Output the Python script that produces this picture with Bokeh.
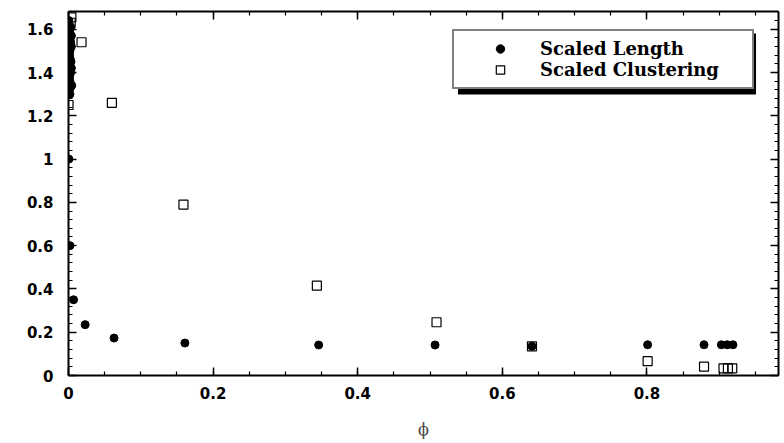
import numpy as np
from bokeh.plotting import figure
from bokeh.models import Range1d, LinearAxis, Legend, LegendItem, BoxAnnotation, FixedTicker
from bokeh.embed import file_html
from bokeh.resources import INLINE

# ---- data ----
length_phi = [0.0005, 0.001, 0.0015, 0.002, 0.0025, 0.003, 0.004, 0.002, 0.0015,
              0.0025, 0.001, 0.004, 0.003, 0.0015, 0.002, 0.0045, 0.001, 0.002,
              0.003, 0.004, 0.0035, 0.0025,
              0.0005, 0.002, 0.007, 0.023, 0.063, 0.161, 0.346, 0.507, 0.641,
              0.801, 0.879, 0.903, 0.911, 0.919]
length_val = [1.64, 1.62, 1.60, 1.58, 1.56, 1.54, 1.52, 1.50, 1.48,
              1.46, 1.44, 1.42, 1.40, 1.38, 1.36, 1.34, 1.32, 1.30,
              1.61, 1.57, 1.45, 1.33,
              1.00, 0.60, 0.35, 0.235, 0.173, 0.150, 0.141, 0.141, 0.135,
              0.142, 0.142, 0.142, 0.142, 0.142]

clust_phi = [0.0, 0.003, 0.004, 0.018, 0.060, 0.159, 0.3435, 0.509, 0.641,
             0.801, 0.879, 0.906, 0.912, 0.918]
clust_val = [1.25, 1.63, 1.655, 1.54, 1.26, 0.79, 0.415, 0.246, 0.135,
             0.066, 0.041, 0.033, 0.033, 0.033]

x_ticks = [0, 0.2, 0.4, 0.6, 0.8]
x_tick_labels = ["0", "0.2", "0.4", "0.6", "0.8"]
y_ticks = [0, 0.2, 0.4, 0.6, 0.8, 1.0, 1.2, 1.4, 1.6]
y_tick_labels = ["0", "0.2", "0.4", "0.6", "0.8", "1", "1.2", "1.4", "1.6"]

series_names = ["Scaled Length", "Scaled Clustering"]
x_label = "\u03d5"

X_MAX, Y_MAX = 0.982, 1.682

p = figure(frame_width=710, frame_height=364, output_backend="svg", toolbar_location=None,
           x_range=Range1d(0, X_MAX), y_range=Range1d(0, Y_MAX),
           min_border_left=68, min_border_top=11, min_border_right=2, min_border_bottom=62,
           background_fill_color="white", border_fill_color="white")
p.grid.visible = False
p.outline_line_color = None

x_minor = list(np.round(np.arange(0, X_MAX, 0.05), 4))
y_minor = list(np.round(np.arange(0, Y_MAX, 0.04), 4))
xticker = FixedTicker(ticks=x_ticks, minor_ticks=x_minor)
yticker = FixedTicker(ticks=y_ticks, minor_ticks=y_minor)

tick_font = "DejaVu Sans"

def style_axis(ax, show_labels):
    ax.axis_line_width = 2
    ax.axis_line_color = "black"
    ax.major_tick_in = 8
    ax.major_tick_out = 0
    ax.minor_tick_in = 4
    ax.minor_tick_out = 0
    ax.major_tick_line_width = 1.5
    ax.minor_tick_line_width = 1.2
    ax.major_tick_line_color = "black"
    ax.minor_tick_line_color = "black"
    if show_labels:
        ax.major_label_text_font = tick_font
        ax.major_label_text_font_style = "bold"
        ax.major_label_text_font_size = "15px"
        ax.major_label_text_color = "black"
    else:
        ax.major_label_text_font_size = "0px"
        ax.major_label_text_color = None
        ax.major_label_standoff = 0

p.xaxis.ticker = xticker
p.yaxis.ticker = yticker
p.xaxis.major_label_overrides = {t: l for t, l in zip(x_ticks, x_tick_labels)}
p.yaxis.major_label_overrides = {t: l for t, l in zip(y_ticks, y_tick_labels)}
style_axis(p.xaxis[0], True)
style_axis(p.yaxis[0], True)
p.xaxis.major_label_standoff = 11
p.yaxis.major_label_standoff = 15
p.xaxis.axis_label = x_label
p.xaxis.axis_label_text_font = "DejaVu Serif"
p.xaxis.axis_label_text_font_style = "normal"
p.xaxis.axis_label_text_font_size = "16px"
p.xaxis.axis_label_standoff = 18

top = LinearAxis(ticker=xticker)
style_axis(top, False)
p.add_layout(top, "above")
right = LinearAxis(ticker=yticker)
style_axis(right, False)
p.add_layout(right, "right")

# legend drop shadow (drawn behind legend, offset 5px right/down)
shadow = BoxAnnotation(left=0.5387, right=0.9509, top=1.580, bottom=1.2985,
                       fill_color="black", fill_alpha=1.0, line_color=None)
p.add_layout(shadow)

r1 = p.scatter(length_phi, length_val, marker="circle", size=8,
               fill_color="black", line_color="black")
r2 = p.scatter(clust_phi, clust_val, marker="square", size=9,
               fill_color=None, line_color="black", line_width=1.2)

legend = Legend(items=[LegendItem(label=series_names[0], renderers=[r1]),
                       LegendItem(label=series_names[1], renderers=[r2])],
                location=(384, 286), orientation="vertical",
                border_line_color="black", border_line_width=2,
                background_fill_color="white", background_fill_alpha=1.0,
                label_text_font="DejaVu Serif", label_text_font_style="bold",
                label_text_font_size="18px", label_text_color="black",
                glyph_width=78, glyph_height=21, label_height=21, label_width=205,
                label_standoff=1, spacing=0, padding=7, margin=0)
p.add_layout(legend, "center")

open("out.html", "w").write(file_html(p, INLINE))
